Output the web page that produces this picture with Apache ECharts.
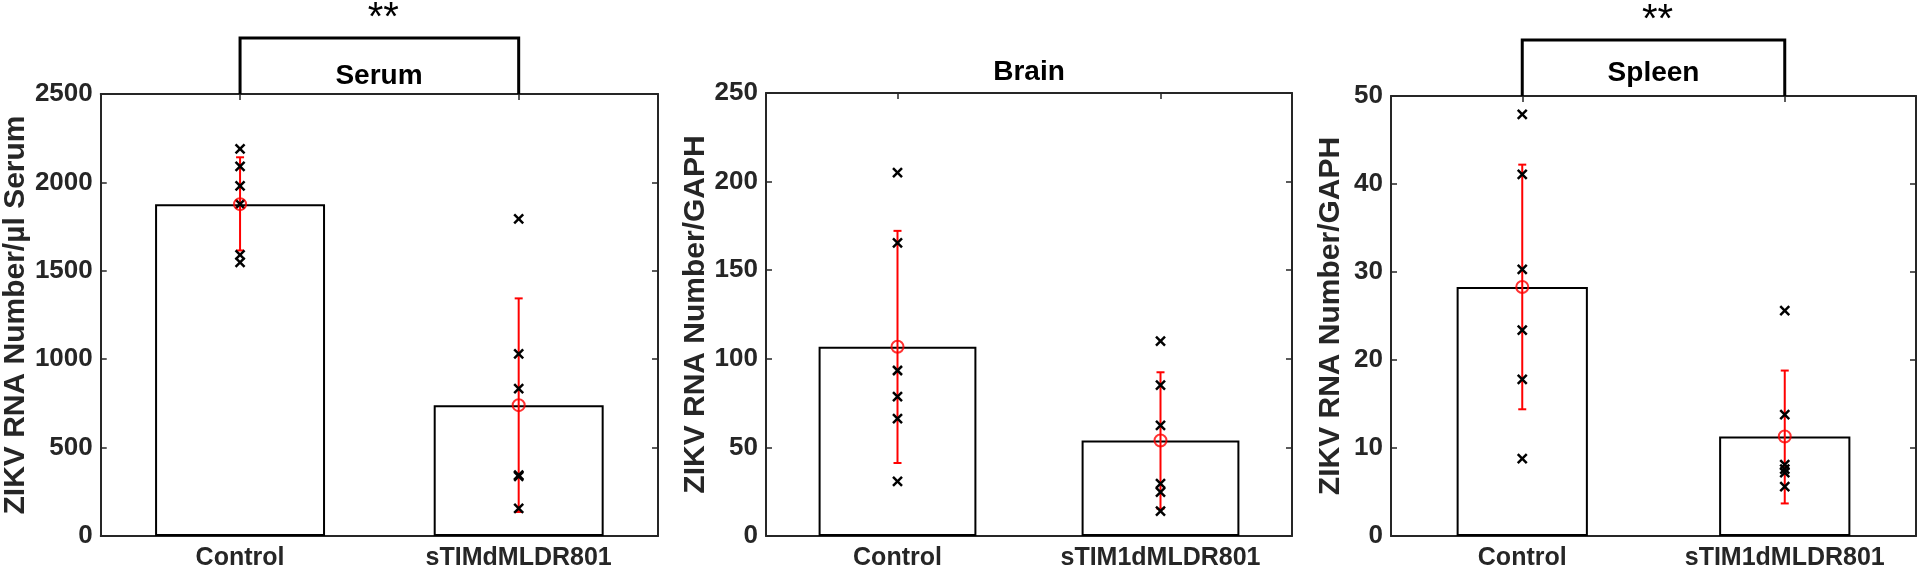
<!DOCTYPE html>
<html>
<head>
<meta charset="utf-8">
<title>ZIKV RNA</title>
<script src="https://cdn.jsdelivr.net/npm/echarts@6/dist/echarts.min.js"></script>
<style>
  html, body { margin: 0; padding: 0; background: #fff; }
  #chart { width: 1920px; height: 574px; }
</style>
</head>
<body>
<div id="chart"></div>
<script>
  // categories
  var serumCats = ['Control', 'sTIMdMLDR801'];
  var tissueCats = ['Control', 'sTIM1dMLDR801'];

  // Serum (copies / µl serum)
  var serumMean = [1877, 740];
  var serumErrLow = [1615, 136];
  var serumErrHigh = [2142, 1344];
  var serumControlPts = [2190, 2090, 1980, 1877, 1590, 1547];
  var serumTreatPts = [1794, 1030, 834, 344, 338, 156];

  // Brain (RNA / GAPH)
  var brainMean = [106.8, 53.9];
  var brainErrLow = [41.2, 15.4];
  var brainErrHigh = [172.2, 92.4];
  var brainControlPts = [205.1, 165.4, 93.4, 78.6, 66.2, 30.8];
  var brainTreatPts = [110, 85.2, 62.4, 29.6, 24.8, 14.0];

  // Spleen (RNA / GAPH)
  var spleenMean = [28.3, 11.3];
  var spleenErrLow = [14.4, 3.7];
  var spleenErrHigh = [42.2, 18.8];
  var spleenControlPts = [47.9, 41.1, 30.3, 23.4, 17.8, 8.8];
  var spleenTreatPts = [25.6, 13.8, 8.1, 7.6, 7.2, 5.6];

  // y axis ranges [min, max, interval]
  var serumAxis = [0, 2500, 500];
  var brainAxis = [0, 250, 50];
  var spleenAxis = [0, 50, 10];

  var FONT = "'Liberation Sans', Arial, Helvetica, sans-serif";
  var AXIS_COLOR = '#262626';

  var panels = [
    {title: 'Serum', cats: serumCats, mean: serumMean, lo: serumErrLow, hi: serumErrHigh,
      ctrl: serumControlPts, treat: serumTreatPts, axis: serumAxis, star: true,
      yName: 'ZIKV RNA Number/µl Serum', nameGap: 68, barWidth: '61%',
      grid: {left: 100, top: 94, width: 558, height: 442}, titleY: 76},
    {title: 'Brain', cats: tissueCats, mean: brainMean, lo: brainErrLow, hi: brainErrHigh,
      ctrl: brainControlPts, treat: brainTreatPts, axis: brainAxis, star: false,
      yName: 'ZIKV RNA Number/GAPH', nameGap: 53, barWidth: '60%',
      grid: {left: 766, top: 93, width: 526, height: 443}, titleY: 72},
    {title: 'Spleen', cats: tissueCats, mean: spleenMean, lo: spleenErrLow, hi: spleenErrHigh,
      ctrl: spleenControlPts, treat: spleenTreatPts, axis: spleenAxis, star: true,
      yName: 'ZIKV RNA Number/GAPH', nameGap: 45, barWidth: '50%',
      grid: {left: 1391, top: 96, width: 525, height: 440}, titleY: 73}
  ];

  /*红色误差线*/
  function renderErrorBar(params, api) {
    var x = api.value(0);
    var lo = api.coord([x, api.value(1)]);
    var hi = api.coord([x, api.value(2)]);
    var half = 4;
    var style = {stroke: '#ff0000', lineWidth: 2};
    return {
      type: 'group',
      children: [
        {type: 'line', shape: {x1: lo[0], y1: lo[1], x2: hi[0], y2: hi[1]}, style: style},
        {type: 'line', shape: {x1: lo[0] - half, y1: lo[1], x2: lo[0] + half, y2: lo[1]}, style: style},
        {type: 'line', shape: {x1: hi[0] - half, y1: hi[1], x2: hi[0] + half, y2: hi[1]}, style: style}
      ]
    };
  }

  /*单个样本的 x 标记*/
  function renderCross(params, api) {
    var p = api.coord([api.value(0), api.value(1)]);
    var s = 4.5;
    var style = {stroke: '#000', lineWidth: 2.5};
    return {
      type: 'group',
      children: [
        {type: 'line', shape: {x1: p[0] - s, y1: p[1] - s, x2: p[0] + s, y2: p[1] + s}, style: style},
        {type: 'line', shape: {x1: p[0] - s, y1: p[1] + s, x2: p[0] + s, y2: p[1] - s}, style: style}
      ]
    };
  }

  /*显著性括号 + 星号*/
  function renderBracket(params, api) {
    var a = api.coord([0, api.value(1)]);
    var b = api.coord([1, api.value(1)]);
    var top = a[1] - 56;
    return {
      type: 'group',
      children: [
        {type: 'polyline', shape: {points: [[a[0], a[1]], [a[0], top], [b[0], top], [b[0], b[1]]]},
          style: {stroke: '#000', lineWidth: 3, fill: null}},
        {type: 'text', x: (a[0] + b[0]) / 2 + 4, y: top - 19,
          style: {text: '**', fill: '#000', font: 'normal 40px ' + FONT, align: 'center', verticalAlign: 'middle'}}
      ]
    };
  }

  var grids = [], xAxes = [], yAxes = [], series = [], graphics = [];

  panels.forEach(function (p, i) {
    grids.push(Object.assign({containLabel: false}, p.grid));

    var tick = {show: true, inside: true, length: 6, lineStyle: {color: AXIS_COLOR, width: 1.5}};
    var line = {show: true, onZero: false, lineStyle: {color: AXIS_COLOR, width: 2}};

    xAxes.push({
      gridIndex: i, type: 'category', data: p.cats, position: 'bottom',
      axisLine: line, axisTick: Object.assign({alignWithLabel: true}, tick),
      axisLabel: {fontSize: 25, fontWeight: 'bold', fontFamily: FONT, color: AXIS_COLOR, margin: 10}
    });
    xAxes.push({
      gridIndex: i, type: 'category', data: p.cats, position: 'top',
      axisLine: line, axisTick: Object.assign({alignWithLabel: true}, tick),
      axisLabel: {show: false}
    });
    yAxes.push({
      gridIndex: i, type: 'value', position: 'left',
      min: p.axis[0], max: p.axis[1], interval: p.axis[2],
      axisLine: line, axisTick: tick, splitLine: {show: false},
      axisLabel: {fontSize: 26, fontWeight: 'bold', fontFamily: FONT, color: AXIS_COLOR, margin: 8,
        formatter: function (v) { return String(v); }},
      name: p.yName, nameLocation: 'middle', nameGap: p.nameGap,
      nameTextStyle: {fontSize: 30, fontWeight: 'bold', fontFamily: FONT, color: AXIS_COLOR}
    });
    yAxes.push({
      gridIndex: i, type: 'value', position: 'right',
      min: p.axis[0], max: p.axis[1], interval: p.axis[2],
      axisLine: line, axisTick: tick, splitLine: {show: false}, axisLabel: {show: false}
    });

    var xi = i * 2, yi = i * 2;

    series.push({
      type: 'bar', xAxisIndex: xi, yAxisIndex: yi, data: p.mean, barWidth: p.barWidth,
      itemStyle: {color: '#fff', borderColor: '#000', borderWidth: 2}, z: 2, silent: true
    });

    series.push({
      type: 'custom', xAxisIndex: xi, yAxisIndex: yi, renderItem: renderErrorBar, z: 3, silent: true,
      data: p.mean.map(function (m, k) { return [k, p.lo[k], p.hi[k]]; })
    });

    var pts = p.ctrl.map(function (v) { return [0, v]; })
      .concat(p.treat.map(function (v) { return [1, v]; }));
    series.push({
      type: 'custom', xAxisIndex: xi, yAxisIndex: yi, renderItem: renderCross, z: 4, silent: true,
      data: pts
    });

    series.push({
      type: 'scatter', xAxisIndex: xi, yAxisIndex: yi, symbol: 'circle', symbolSize: 12, z: 5, silent: true,
      itemStyle: {color: 'rgba(0,0,0,0)', borderColor: '#ff0000', borderWidth: 2},
      data: p.mean.map(function (m, k) { return [k, m]; })
    });

    if (p.star) {
      series.push({
        type: 'custom', xAxisIndex: xi, yAxisIndex: yi, renderItem: renderBracket, clip: false, z: 6, silent: true,
        data: [[0, p.axis[1]]]
      });
    }

    graphics.push({
      type: 'text', x: p.grid.left + p.grid.width / 2, y: p.titleY,
      style: {text: p.title, fill: '#000', font: 'bold 28px ' + FONT, align: 'center', verticalAlign: 'middle'}
    });
  });

  var myChart = echarts.init(document.getElementById('chart'), null, {renderer: 'canvas'});
  myChart.setOption({
    backgroundColor: '#fff',
    animation: false,
    grid: grids,
    xAxis: xAxes,
    yAxis: yAxes,
    series: series,
    graphic: graphics
  });
</script>
</body>
</html>
